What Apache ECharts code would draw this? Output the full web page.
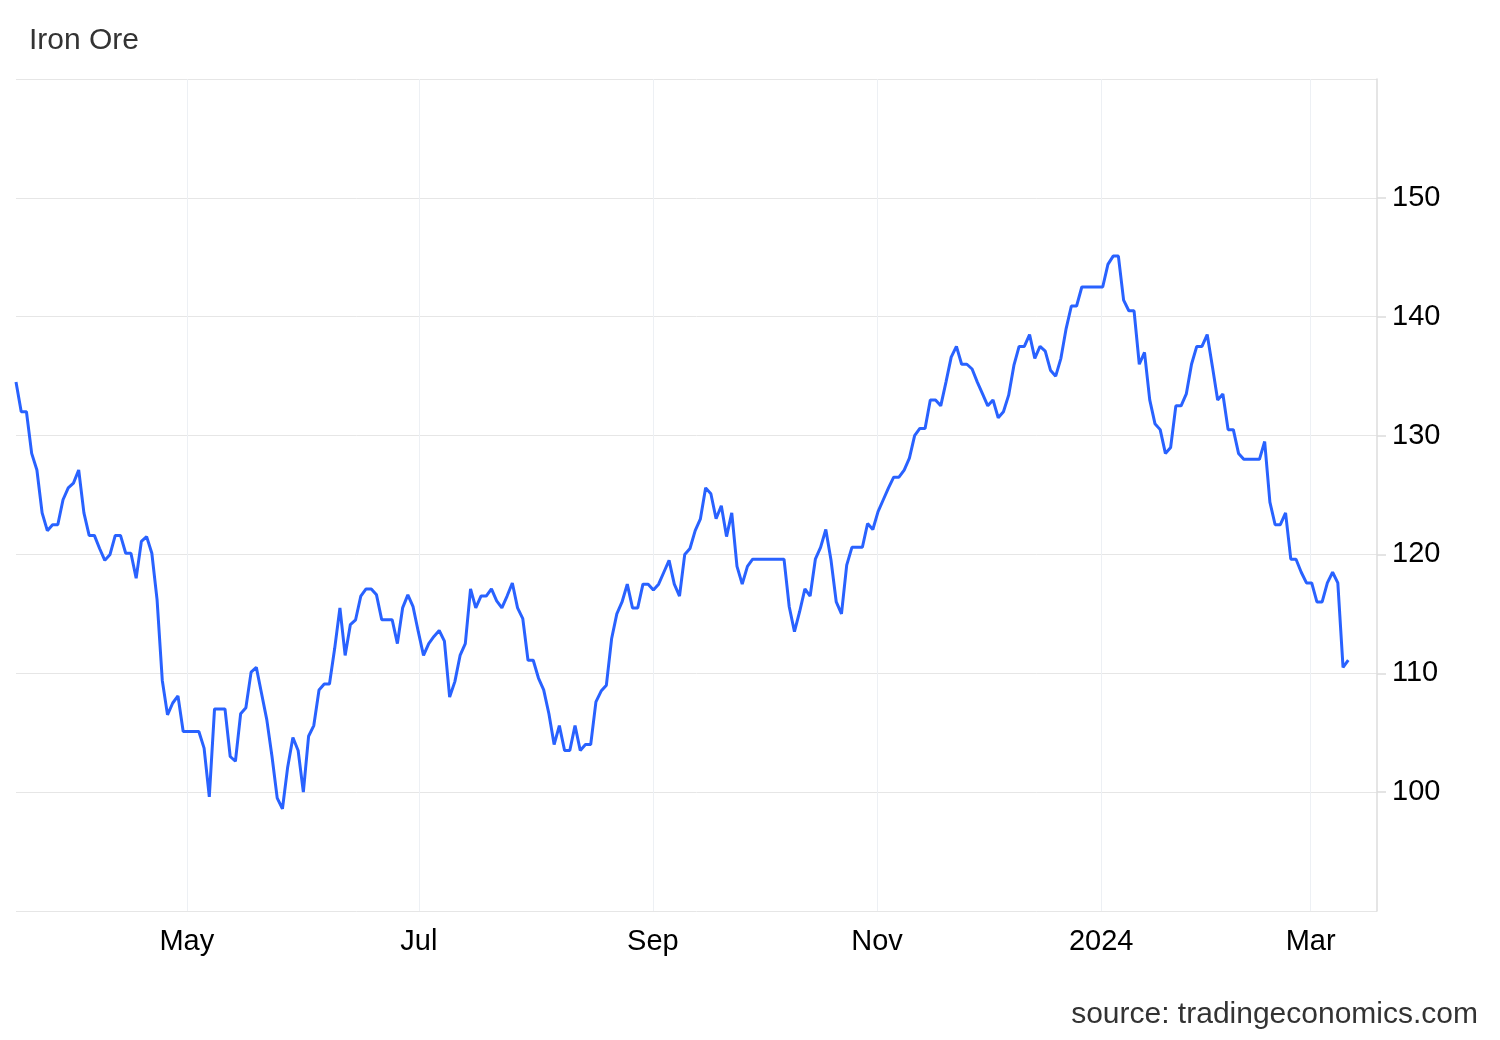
<!DOCTYPE html>
<html>
<head>
<meta charset="utf-8">
<script src="https://cdn.jsdelivr.net/npm/echarts@6/dist/echarts.min.js"></script>
<style>
html,body{margin:0;padding:0;background:#fff;}
#chart{width:1500px;height:1040px;}
</style>
</head>
<body>
<div id="chart"></div>
<script>
// Iron ore price, one value per trading day (index 0 = first trading day shown)
const ironOre = [
134.5,132.0,132.0,128.5,127.1,123.5,122.0,122.5,122.5,124.6,
125.6,126.0,127.1,123.5,121.6,121.6,120.5,119.5,120.0,121.6,
121.6,120.1,120.1,118.0,121.1,121.5,120.1,116.2,109.4,106.5,
107.5,108.1,105.1,105.1,105.1,105.1,103.7,99.6,107.0,107.0,
107.0,103.0,102.6,106.6,107.1,110.1,110.5,108.3,106.1,103.0,
99.5,98.6,102.1,104.6,103.5,100.0,104.7,105.6,108.6,109.1,
109.1,112.1,115.5,111.5,114.1,114.5,116.5,117.1,117.1,116.6,
114.5,114.5,114.5,112.5,115.5,116.6,115.6,113.5,111.5,112.5,
113.1,113.6,112.7,108.0,109.3,111.5,112.5,117.1,115.5,116.5,
116.5,117.1,116.1,115.5,116.5,117.6,115.5,114.6,111.1,111.1,
109.6,108.6,106.6,104.0,105.6,103.5,103.5,105.6,103.5,104.0,
104.0,107.6,108.5,109.0,112.9,115.0,116.0,117.5,115.5,115.5,
117.5,117.5,117.0,117.5,118.5,119.5,117.5,116.5,120.0,120.5,
122.0,123.0,125.6,125.1,123.0,124.1,121.5,123.5,119.0,117.5,
119.0,119.6,119.6,119.6,119.6,119.6,119.6,119.6,115.6,113.5,
115.2,117.1,116.5,119.6,120.6,122.1,119.5,116.0,115.0,119.1,
120.6,120.6,120.6,122.6,122.1,123.6,124.6,125.6,126.5,126.5,
127.1,128.1,130.0,130.6,130.6,133.0,133.0,132.5,134.5,136.6,
137.5,136.0,136.0,135.6,134.5,133.5,132.5,133.0,131.5,132.0,
133.4,135.9,137.5,137.5,138.5,136.5,137.5,137.1,135.5,135.0,
136.5,139.0,140.9,140.9,142.5,142.5,142.5,142.5,142.5,144.4,
145.1,145.1,141.4,140.5,140.5,136.0,137.0,133.0,131.0,130.5,
128.5,129.0,132.5,132.5,133.5,136.0,137.5,137.5,138.5,135.8,
133.0,133.5,130.5,130.5,128.5,128.0,128.0,128.0,128.0,129.5,
124.4,122.5,122.5,123.5,119.6,119.6,118.5,117.6,117.6,116.0,
116.0,117.6,118.5,117.6,110.5,111.1
];
// month tick labels and their position on the trading-day index axis
const monthTickLabels = ['May', 'Jul', 'Sep', 'Nov', '2024', 'Mar'];
const monthTickPos = [32.7, 77.1, 121.9, 164.8, 207.7, 247.8];
// y axis ticks
const yTicks = [90, 100, 110, 120, 130, 140, 150, 160];

const seriesData = ironOre.map((v, i) => [i, v]);
const FONT = '"Liberation Sans", Arial, Helvetica, sans-serif';

const chart = echarts.init(document.getElementById('chart'), null, {renderer: 'canvas'});
chart.setOption({
  animation: false,
  backgroundColor: '#ffffff',
  textStyle: {fontFamily: FONT},
  title: [
    {text: 'Iron Ore', left: 29, top: 26, padding: 0,
     textStyle: {fontFamily: FONT, fontSize: 30, fontWeight: 'normal', color: '#333333'}},
    {text: 'source: tradingeconomics.com', right: 22, top: 1000, padding: 0,
     textStyle: {fontFamily: FONT, fontSize: 30, fontWeight: 'normal', color: '#333333'}}
  ],
  grid: {left: 16, right: 123, top: 79, bottom: 129, containLabel: false},
  xAxis: {
    type: 'value',
    min: 0,
    max: 260.5,
    axisLine: {show: false, onZero: false},
    axisTick: {show: false, customValues: monthTickPos},
    axisLabel: {
      customValues: monthTickPos,
      margin: 16,
      fontSize: 29,
      fontFamily: FONT,
      color: '#000000',
      formatter: function (val) {
        let best = -1, bd = 1e9;
        monthTickPos.forEach((p, k) => { const d = Math.abs(p - val); if (d < bd) { bd = d; best = k; } });
        return bd < 0.5 ? monthTickLabels[best] : '';
      }
    },
    splitLine: {show: true, lineStyle: {color: '#edf0f4', width: 1}}
  },
  yAxis: {
    type: 'value',
    position: 'right',
    min: yTicks[0],
    max: yTicks[yTicks.length - 1],
    interval: 10,
    axisLine: {show: true, onZero: false, lineStyle: {color: '#dcdcdc', width: 1.5}},
    axisTick: {show: true, length: 9, lineStyle: {color: '#dcdcdc', width: 1.5}},
    axisLabel: {
      showMinLabel: false,
      showMaxLabel: false,
      margin: 15,
      fontSize: 29,
      fontFamily: FONT,
      color: '#000000',
      padding: [3, 0, 0, 0]
    },
    splitLine: {show: true, lineStyle: {color: '#e6e6e6', width: 1}}
  },
  series: [{
    type: 'line',
    name: 'Iron Ore',
    data: seriesData,
    showSymbol: false,
    smooth: false,
    lineStyle: {color: '#2962ff', width: 3},
    itemStyle: {color: '#2962ff'},
    clip: true
  }]
});
</script>
</body>
</html>
